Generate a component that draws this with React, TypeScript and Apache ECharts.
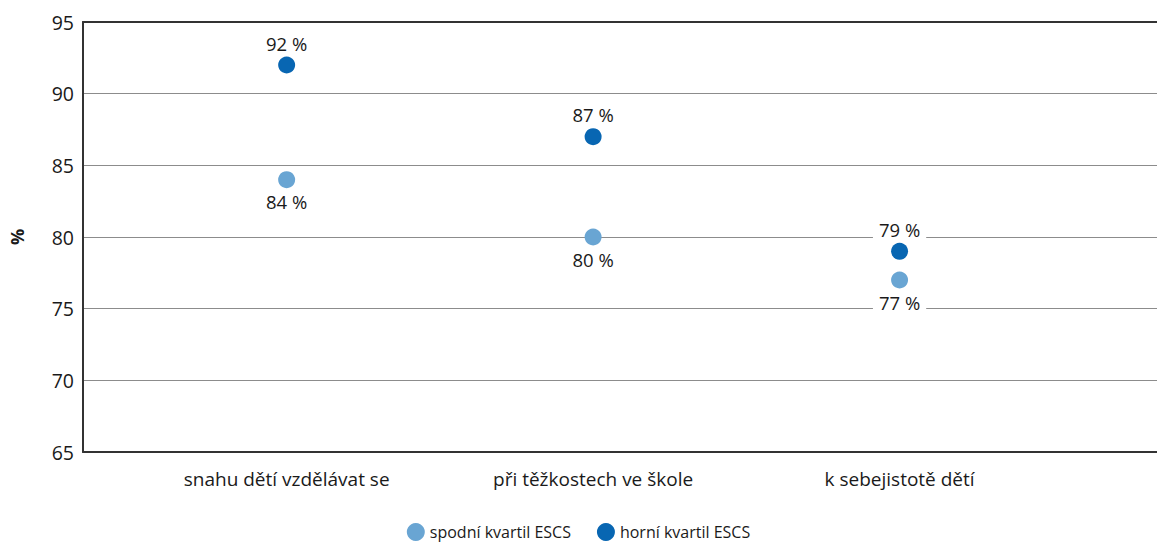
import React, { useEffect, useRef } from "react";
import * as echarts from "echarts";

// Categories and their positions on the horizontal value scale
const categories = ["snahu dětí vzdělávat se", "při těžkostech ve škole", "k sebejistotě dětí"];
const categoryPositions = [1, 2, 3];

// Share of parents (%) by ESCS quartile
const lowerQuartile = [84, 80, 77];
const upperQuartile = [92, 87, 79];

const seriesNames = ["spodní kvartil ESCS", "horní kvartil ESCS"];
const yTicks = { min: 65, max: 95, step: 5 };

const FONT = "'Open Sans', 'Noto Sans', sans-serif";
const TEXT = "#1a1a1a";

export default function App() {
  const ref = useRef<HTMLDivElement>(null);

  useEffect(() => {
    if (!ref.current) return;
    const chart = echarts.init(ref.current, undefined, { renderer: "svg" });

    const labelStyle = (pos: "top" | "bottom") => ({
      show: true,
      position: pos,
      distance: 4,
      formatter: (p: any) => `${p.value[1]} %`,
      fontFamily: FONT,
      fontSize: 18.5,
      color: TEXT,
      backgroundColor: "#ffffff",
      padding: [0, 6],
    });

    chart.setOption({
      animation: false,
      textStyle: { fontFamily: FONT },
      grid: { left: 81, right: 0, top: 22, bottom: 95 },
      legend: {
        top: 523,
        left: "center",
        padding: [0, 5],
        itemWidth: 18,
        itemHeight: 18,
        itemGap: 26,
        icon: "circle",
        textStyle: { fontFamily: FONT, fontSize: 16, color: TEXT },
        data: seriesNames,
      },
      xAxis: [
        {
          type: "value",
          min: 0.3355,
          max: 3.84,
          axisLine: { show: true, onZero: false, lineStyle: { color: "#333", width: 2 } },
          axisTick: { show: false },
          splitLine: { show: false },
          axisLabel: {
            customValues: categoryPositions,
            formatter: (v: number) => categories[categoryPositions.indexOf(Math.round(v))] ?? "",
            margin: 17,
            fontFamily: FONT,
            fontSize: 19,
            color: TEXT,
          },
        },
        {
          type: "value",
          position: "top",
          min: 0,
          max: 1,
          axisLine: { show: true, onZero: false, lineStyle: { color: "#333", width: 2 } },
          axisTick: { show: false },
          axisLabel: { show: false },
          splitLine: { show: false },
        },
      ],
      yAxis: {
        type: "value",
        min: yTicks.min,
        max: yTicks.max,
        interval: yTicks.step,
        name: "%",
        nameLocation: "middle",
        nameRotate: 90,
        nameGap: 57,
        nameTextStyle: { fontFamily: FONT, fontSize: 18, fontWeight: "bold", color: TEXT },
        axisLine: { show: true, lineStyle: { color: "#333", width: 2 } },
        axisTick: { show: false },
        axisLabel: { fontFamily: FONT, fontSize: 19.5, color: TEXT, margin: 9 },
        splitLine: { show: true, lineStyle: { color: "#8c8c8c", width: 1 } },
      },
      series: [
        {
          name: seriesNames[0],
          type: "scatter",
          symbol: "circle",
          symbolSize: 17,
          itemStyle: { color: "#69a5d3", opacity: 1 },
          label: labelStyle("bottom"),
          data: categoryPositions.map((x, i) => [x, lowerQuartile[i]]),
          z: 3,
        },
        {
          name: seriesNames[1],
          type: "scatter",
          symbol: "circle",
          symbolSize: 17,
          itemStyle: { color: "#0866b2", opacity: 1 },
          label: labelStyle("top"),
          data: categoryPositions.map((x, i) => [x, upperQuartile[i]]),
          z: 3,
        },
      ],
    });

    return () => chart.dispose();
  }, []);

  return (
    <div
      ref={ref}
      style={{ position: "fixed", left: 0, top: 0, width: 1157, height: 547, background: "#fff" }}
    />
  );
}
